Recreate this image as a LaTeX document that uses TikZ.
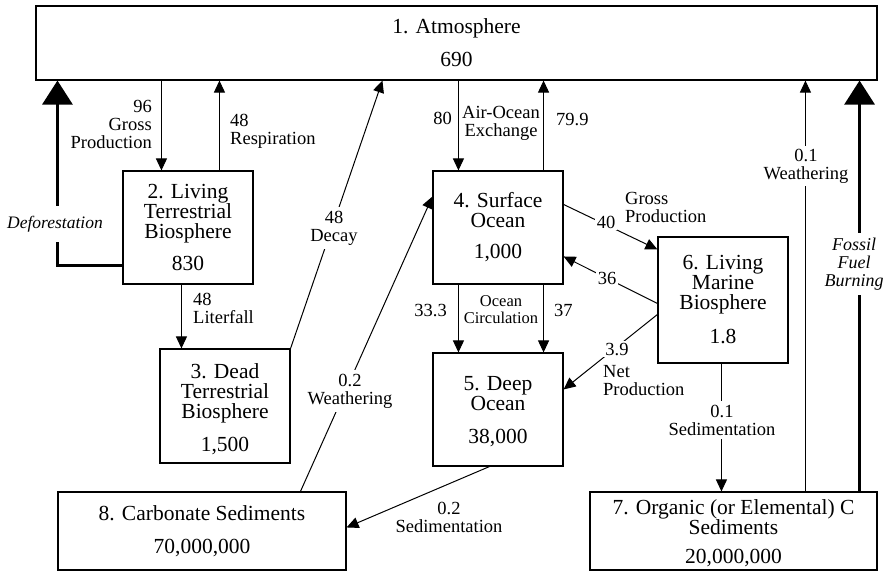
\documentclass[tikz,border=0pt]{standalone}
\usepackage{fontspec}
\setmainfont{Liberation Serif}
\usetikzlibrary{arrows.meta,calc}
\begin{document}
\begin{tikzpicture}[x=1pt,y=-1pt,
  box/.style={draw, line width=1.1pt, inner sep=0pt, align=center,
    font=\fontsize{21.5}{20}\selectfont},
  flow/.style={line width=1pt, -{Triangle[length=12pt,width=11pt]}},
  bigflow/.style={line width=3pt, -{Triangle[length=24pt,width=30pt]}},
  lbl/.style={inner sep=1pt, align=center, font=\fontsize{18.5}{18}\selectfont},
  smalllbl/.style={inner sep=1pt, align=center, font=\fontsize{16.5}{17}\selectfont},
  cut/.style={fill=white, inner sep=4pt}
]
\useasboundingbox (0,0) rectangle (885,571);

% reservoirs
\node[box, minimum width=841pt, minimum height=74pt] (b1) at (456.5,43)
  {1. Atmosphere\\[13pt]690};
\node[box, minimum width=130pt, minimum height=113pt] (b2) at (188,227.5)
  {2. Living\\Terrestrial\\Biosphere\\[12pt]830};
\node[box, minimum width=130pt, minimum height=114pt] (b3) at (225,406)
  {\rule{0pt}{21pt}3. Dead\\Terrestrial\\Biosphere\\[13pt]1,500};
\node[box, minimum width=130pt, minimum height=113pt] (b4) at (498,227.5)
  {4. Surface\\Ocean\\[11pt]1,000};
\node[box, minimum width=130pt, minimum height=113pt] (b5) at (498,409.5)
  {\rule{0pt}{18pt}5. Deep\\Ocean\\[13pt]38,000};
\node[box, minimum width=130pt, minimum height=126pt] (b6) at (723,300)
  {6. Living\\Marine\\Biosphere\\[14pt]1.8};
\node[box, minimum width=287pt, minimum height=78pt,
  font=\fontsize{21.5}{18}\selectfont] (b7) at (733.5,531)
  {\rule{0pt}{19pt}7. Organic (or Elemental) C\\Sediments\\[11pt]20,000,000};
\node[box, minimum width=288pt, minimum height=78pt] (b8) at (202,531)
  {8. Carbonate Sediments\\[13pt]70,000,000};

% attachment points on the box edges
\coordinate (p96)  at ($(b2.north west)+(39,0)$);
\coordinate (p48r) at ($(b2.north west)+(97,0)$);
\coordinate (pdef) at ($(b2.south west)+(0,-19)$);
\coordinate (pdeft) at ($(b1.south west)+(22,0)$);
\coordinate (plit) at ($(b2.south west)+(59,0)$);
\coordinate (pdec) at ($(b1.south west)+(347,0)$);
\coordinate (pw8)  at ($(b8.north west)+(243,0)$);
\coordinate (pw4)  at ($(b4.north west)+(0,26)$);
\coordinate (p80)  at ($(b4.north west)+(26,0)$);
\coordinate (p799) at ($(b4.north east)+(-20,0)$);
\coordinate (p333) at ($(b4.south west)+(26,0)$);
\coordinate (p37)  at ($(b4.south east)+(-20,0)$);
\coordinate (p40a) at ($(b4.north east)+(0,34)$);
\coordinate (p40b) at ($(b6.north west)+(0,13)$);
\coordinate (p36a) at ($(b6.north west)+(0,67)$);
\coordinate (p36b) at ($(b4.north east)+(0,86)$);
\coordinate (p39a) at ($(b6.north west)+(0,78)$);
\coordinate (p39b) at ($(b5.north east)+(0,37)$);
\coordinate (psed) at ($(b6.south west)+(64,0)$);
\coordinate (pw7)  at ($(b7.north west)+(216,0)$);
\coordinate (pfos) at ($(b7.north east)+(-18,0)$);
\coordinate (ps5)  at ($(b5.south west)+(57,0)$);
\coordinate (ps8)  at ($(b8.north east)+(0,36)$);

% fluxes
\draw[flow] (p96 |- b1.south) -- (p96);
\draw[flow] (p48r) -- (p48r |- b1.south);
\draw[bigflow] (pdef) -| (pdeft);
\draw[flow] (plit) -- (plit |- b3.north);
\draw[flow] (b3.north east) -- (pdec);
\draw[flow] (pw8) -- (pw4);
\draw[flow] (p80 |- b1.south) -- (p80);
\draw[flow] (p799) -- (p799 |- b1.south);
\draw[flow] (p333) -- (p333 |- b5.north);
\draw[flow] (p37) -- (p37 |- b5.north);
\draw[flow] (p40a) -- (p40b);
\draw[flow] (p36a) -- (p36b);
\draw[flow] (p39a) -- (p39b);
\draw[flow] (psed) -- (psed |- b7.north);
\draw[flow] (pw7) -- (pw7 |- b1.south);
\draw[bigflow] (pfos) -- (pfos |- b1.south);
\draw[flow] (ps5) -- (ps8);

% flux labels
\node[lbl, align=right, anchor=east] (l96) at (153,124) {96\\Gross\\Production};
\node[lbl, align=left, anchor=west] (l48r) at (229,131) {48\\Respiration};
\node[lbl, align=left, anchor=west] (llit) at (192,308) {48\\Literfall};
\node[lbl, cut] (ldec) at (334,228) {48\\Decay};
\node[lbl, cut] (lw8) at (350,391) {0.2\\Weathering};
\node[lbl, anchor=east] (l80) at (453,118) {80};
\node[lbl] (lair) at (501,123) {Air-Ocean\\Exchange};
\node[lbl, anchor=west] (l799) at (555,120) {79.9};
\node[lbl, anchor=east] (l333) at (448,310) {33.3};
\node[smalllbl] (locc) at (501,310) {Ocean\\Circulation};
\node[lbl, anchor=west] (l37) at (553,310) {37};
\node[lbl, cut, inner sep=2pt] (l40) at (606,222) {40};
\node[lbl, align=left, anchor=west] (lgp) at (624,207) {Gross\\Production};
\node[lbl, cut, inner sep=2pt] (l36) at (607,278) {36};
\node[lbl, cut, inner sep=2pt] (l39) at (617,349) {3.9};
\node[lbl, align=left, anchor=west] (lnet) at (602,381) {Net\\Production};
\node[lbl, cut] (lsed) at (722,420) {0.1\\Sedimentation};
\node[lbl, cut, inner sep=3pt] (lw7) at (806,166) {0.1\\Weathering};
\node[lbl] (ls8) at (449,517) {0.2\\Sedimentation};
\node[lbl, cut, inner xsep=2pt, inner ysep=10pt,
  font=\fontsize{17.5}{18}\selectfont\itshape] (ldef) at (55,224) {Deforestation};
\node[lbl, cut, inner xsep=2pt, inner ysep=5pt,
  font=\fontsize{18}{18}\selectfont\itshape] (lfos) at (854,264) {Fossil\\Fuel\\Burning};
\end{tikzpicture}
\end{document}
